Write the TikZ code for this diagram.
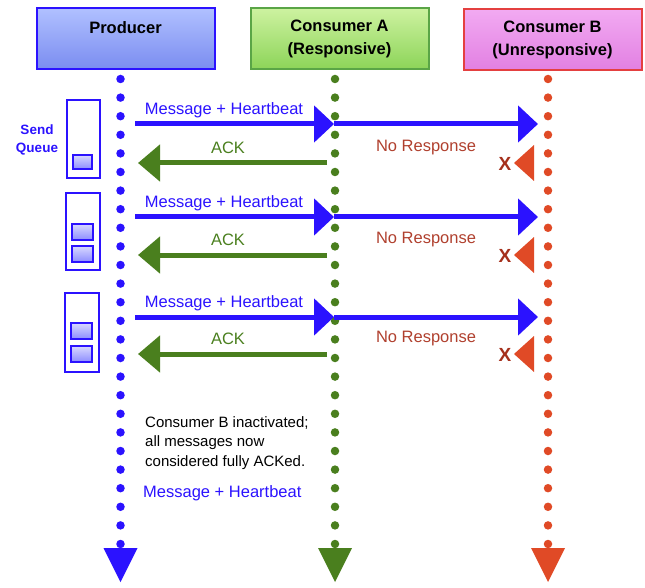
\documentclass[tikz,border=0pt]{standalone}
\usepackage{fontspec}
\setmainfont{Liberation Sans}
\usetikzlibrary{arrows.meta}
\definecolor{pblue}{HTML}{2B12FF}
\definecolor{agreen}{HTML}{4A7F1E}
\definecolor{bred}{HTML}{E04A26}
\definecolor{nresp}{HTML}{B0402E}
\definecolor{xred}{HTML}{A5301C}
\tikzset{
  hdr/.style={draw, line width=2pt, minimum width=178pt, minimum height=61pt, align=center,
    font=\fontsize{16.5}{23}\selectfont\bfseries},
  dotline/.style={draw=#1, line width=8.5pt, line cap=round, dash pattern=on 0pt off 18.6pt},
  msg/.style={draw=pblue, line width=5pt, -{Triangle[length=20pt,width=36pt]}},
  ack/.style={draw=agreen, line width=5pt, -{Triangle[length=22pt,width=36pt]}},
  lbl/.style={font=\fontsize{16.5}{19}\selectfont},
  qbox/.style={draw=pblue, line width=2pt, fill=white},
  qitem/.style={draw=pblue, line width=1.2pt, top color=blue!15!white, bottom color=blue!45!white}
}
\begin{document}
\begin{tikzpicture}[x=1pt,y=-1pt]
\useasboundingbox (0,0) rectangle (645,588);
% headers
\node[hdr, draw=pblue, top color={rgb,255:red,176;green,192;blue,255}, bottom color={rgb,255:red,122;green,140;blue,240}] (prod) at (125.5,39) {Producer\\\mbox{}};
\node[hdr, draw={rgb,255:red,90;green,165;blue,70}, top color={rgb,255:red,205;green,242;blue,160}, bottom color={rgb,255:red,140;green,212;blue,88}] (ca) at (339.5,39) {Consumer A\\(Responsive)};
\node[hdr, draw={rgb,255:red,228;green,64;blue,64}, top color={rgb,255:red,242;green,170;blue,242}, bottom color={rgb,255:red,226;green,128;blue,226}] (cb) at (552.5,39.5) {Consumer B\\(Unresponsive)};
% lifelines
\coordinate (pt) at (120.5,79);  \coordinate (pb) at (120.5,545);
\coordinate (at) at (335,79);    \coordinate (ab) at (335,545);
\coordinate (bt) at (548,79);    \coordinate (bb) at (548,545);
\draw[dotline=pblue] (pt) -- (pb);
\draw[dotline=agreen] (at) -- (ab);
\draw[dotline=bred] (bt) -- (bb);
\fill[pblue] ([shift={(-17,3)}]pb) -- ([shift={(17,3)}]pb) -- ([shift={(0,37)}]pb) -- cycle;
\fill[agreen] ([shift={(-17,3)}]ab) -- ([shift={(17,3)}]ab) -- ([shift={(0,37)}]ab) -- cycle;
\fill[bred] ([shift={(-17,3)}]bb) -- ([shift={(17,3)}]bb) -- ([shift={(0,37)}]bb) -- cycle;
% send queue
\node[font=\fontsize{13.5}{18}\selectfont\bfseries, text=pblue, align=center] (sq) at (37,140) {Send\\Queue};
\draw[qbox] (67,100) rectangle (100,178);
\draw[qitem] (73,155) rectangle (92,169);
\draw[qbox] (66,193) rectangle (100,270);
\draw[qitem] (72,224) rectangle (93,240);
\draw[qitem] (72,246) rectangle (93,262);
\draw[qbox] (65,293) rectangle (99,372);
\draw[qitem] (71,323) rectangle (92,339);
\draw[qitem] (71,346) rectangle (92,362);
% rows
\foreach \m/\a/\i in {124/163/1, 217/255/2, 317/354/3}{
  \coordinate (ms\i) at (135,\m);
  \coordinate (mm\i) at (334,\m);
  \coordinate (me\i) at (538,\m);
  \coordinate (as\i) at (327,\a);
  \coordinate (ae\i) at (138,\a);
  \draw[msg] (ms\i) -- (mm\i);
  \draw[msg] (mm\i) -- (me\i);
  \draw[ack] (as\i) -- (ae\i);
  \node[lbl, text=pblue] (ml\i) at (224,\m-14) {Message + Heartbeat};
  \node[lbl, text=agreen] (al\i) at (228,\a-15) {ACK};
  \node[lbl, text=nresp] (nl\i) at (426,\a-15) {No Response};
  \fill[bred] (514,\a) -- (534,\a-18) -- (534,\a+18) -- cycle;
  \node[font=\fontsize{19}{21}\selectfont\bfseries, text=xred] (x\i) at (505,\a+1) {X};
}
% bottom notes
\node[anchor=north west, inner sep=0pt, align=left, font=\fontsize{15}{19.5}\selectfont] (note) at (145,416) {Consumer B inactivated;\\all messages now\\considered fully ACKed.};
\node[lbl, text=pblue, anchor=west, inner sep=0pt] (ml4) at (143,493) {Message + Heartbeat};
\end{tikzpicture}
\end{document}
